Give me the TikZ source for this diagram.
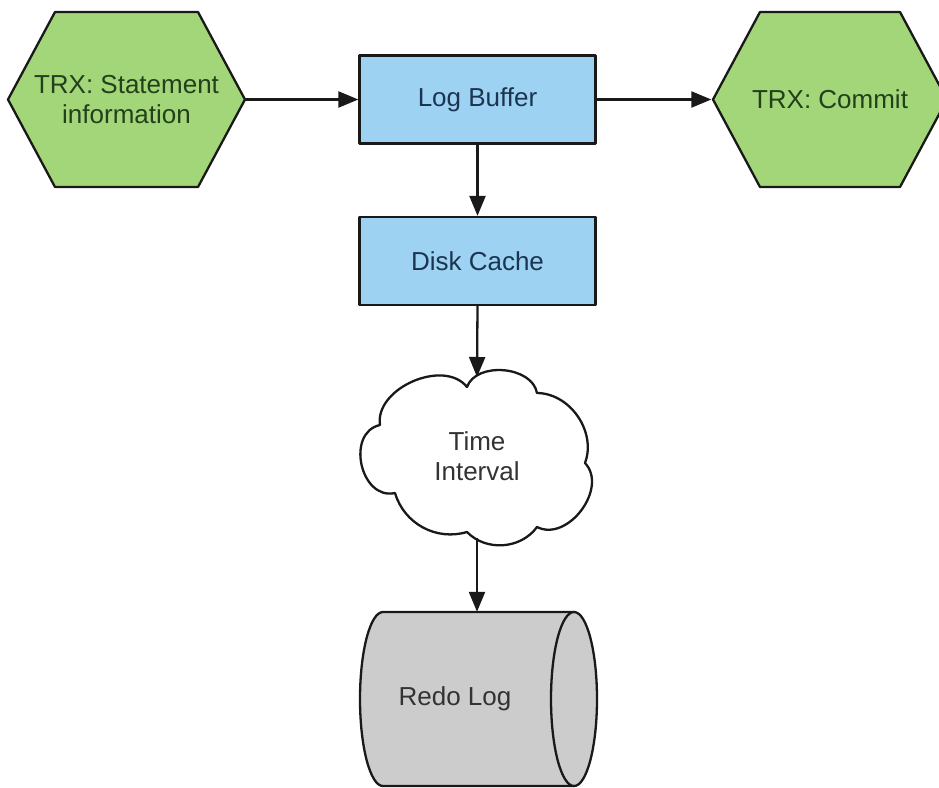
\documentclass[tikz,border=0pt]{standalone}
\usepackage{fontspec}
\setmainfont{Liberation Sans}
\usetikzlibrary{arrows.meta}
\definecolor{hexgreen}{HTML}{A3D679}
\definecolor{hextext}{HTML}{22401A}
\definecolor{boxblue}{HTML}{9DD2F2}
\definecolor{boxtext}{HTML}{1B3550}
\definecolor{cylgray}{HTML}{CCCCCC}
\definecolor{greytext}{HTML}{333333}
\begin{document}
\begin{tikzpicture}[x=1pt,y=-1pt,
  every node/.style={font=\fontsize{26}{30}\selectfont, align=center},
  outline/.style={draw=black!90, line width=2.3pt, line join=round},
  hexshape/.style={outline, fill=hexgreen},
  hexlabel/.style={rectangle, minimum width=237pt, minimum height=175pt, inner sep=0pt, text=hextext},
  boxnode/.style={rectangle, outline, fill=boxblue, minimum width=236pt, minimum height=88pt, text=boxtext},
  cloudshape/.style={outline, fill=white},
  cloudlabel/.style={rectangle, minimum width=200pt, minimum height=140pt, text=greytext},
  cylshape/.style={outline, fill=cylgray},
  cyllabel/.style={rectangle, minimum width=190pt, minimum height=174pt, inner sep=0pt, text=greytext},
  conn/.style={-{Triangle[length=20pt,width=16pt]}, line width=2.3pt, draw=black!90}
]
\useasboundingbox (0,0) rectangle (939,787);
% hexagons
\path[hexshape] (8,99.5) -- (55,12) -- (198,12) -- (245,99.5) -- (198,187) -- (55,187) -- cycle;
\path[hexshape] (713,99.5) -- (760,12) -- (900,12) -- (947,99.5) -- (900,187) -- (760,187) -- cycle;
\node[hexlabel] (stmt) at (126.5,99.5) {TRX: Statement\\information};
\node[hexlabel] (commit) at (830,99.5) {TRX: Commit};
% boxes
\node[boxnode] (buf) at (477.5,99.5) {Log Buffer};
\node[boxnode] (cache) at (477.5,261) {Disk Cache};
% cloud
\path[cloudshape] (467,387) to[bend left=75] (537,393)
  to[bend left=55] (585,463)
  to[bend left=80, looseness=1.1] (537,527)
  to[bend left=50] (467,532)
  to[bend left=45] (395,493)
  to[bend left=90, looseness=1.3] (380,425)
  to[bend left=75] (467,387) -- cycle;
\node[cloudlabel] (time) at (477,456) {Time\\Interval};
\coordinate (timetop) at (477,377);
\coordinate (timebot) at (477,538);
% cylinder
\fill[cylgray] (574,612) -- (383,612) arc[start angle=-90, end angle=-270, x radius=23, y radius=87] -- (574,786) -- cycle;
\draw[outline] (574,612) -- (383,612) arc[start angle=-90, end angle=-270, x radius=23, y radius=87] -- (574,786);
\path[cylshape] (574,699) ellipse[x radius=23, y radius=87];
\node[cyllabel] (redo) at (455,699) {Redo Log};
% connectors
\draw[conn] (stmt.east) -- (buf.west);
\draw[conn] (buf.east) -- (commit.west);
\draw[conn] (buf.south) -- (cache.north);
\draw[conn] (cache.south) -- (timetop);
\draw[conn] (timebot) -- (timebot |- redo.north);
\end{tikzpicture}
\end{document}
